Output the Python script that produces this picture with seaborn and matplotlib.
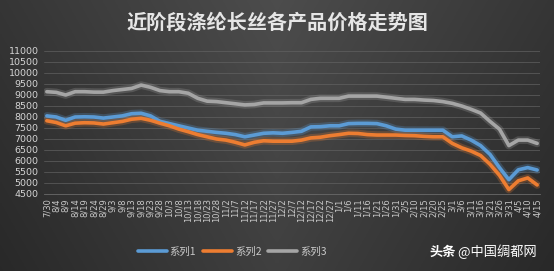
import numpy as np
import pandas as pd
import matplotlib
matplotlib.use("Agg")
import matplotlib.pyplot as plt
import seaborn as sns
from matplotlib.lines import Line2D

dates = ["7/30", "8/4", "8/9", "8/14", "8/19", "8/24", "8/29", "9/3", "9/8", "9/13",
         "9/18", "9/23", "9/28", "10/3", "10/8", "10/13", "10/18", "10/23", "10/28",
         "11/2", "11/7", "11/12", "11/17", "11/22", "11/27", "12/2", "12/7", "12/12",
         "12/17", "12/22", "12/27", "1/1", "1/6", "1/11", "1/16", "1/21", "1/26", "1/31",
         "2/5", "2/10", "2/15", "2/20", "2/25", "3/1", "3/6", "3/11", "3/16", "3/21",
         "3/26", "3/31", "4/5", "4/10", "4/15"]

series1 = [8050, 8000, 7850, 8000, 8010, 8000, 7950, 8000, 8050, 8150,
           8170, 8050, 7800, 7700, 7600, 7500, 7400, 7350, 7300, 7260,
           7200, 7100, 7180, 7260, 7280, 7260, 7300, 7350, 7550, 7560,
           7600, 7600, 7700, 7710, 7710, 7700, 7600, 7450, 7400, 7400,
           7400, 7400, 7400, 7100, 7140, 6950, 6700, 6300, 5700, 5150,
           5600, 5700, 5590]
series2 = [7830, 7750, 7600, 7720, 7740, 7730, 7680, 7740, 7800, 7900,
           7940, 7850, 7720, 7600, 7450, 7330, 7200, 7100, 7000, 6950,
           6850, 6730, 6850, 6920, 6900, 6900, 6900, 6950, 7050, 7080,
           7150, 7200, 7260, 7250, 7200, 7180, 7180, 7180, 7160, 7150,
           7120, 7100, 7100, 6800, 6600, 6450, 6250, 5850, 5350, 4700,
           5100, 5230, 4910]
series3 = [9150, 9120, 9000, 9150, 9150, 9130, 9130, 9200, 9250, 9300,
           9450, 9350, 9200, 9150, 9150, 9080, 8850, 8720, 8700, 8650,
           8600, 8550, 8570, 8640, 8640, 8640, 8650, 8650, 8800, 8850,
           8850, 8850, 8950, 8950, 8950, 8950, 8900, 8850, 8800, 8800,
           8770, 8750, 8700, 8620, 8500, 8350, 8180, 7800, 7450, 6700,
           6950, 6950, 6800]
series_names = ["系列1", "系列2", "系列3"]
yticks = list(range(4500, 11001, 500))
title = "近阶段涤纶长丝各产品价格走势图"
watermark_a = "头条"
watermark_b = " @中国绸都网"

colors = ["#5b9bd5", "#ed7d31", "#a5a5a5"]

n = len(dates)
df = pd.DataFrame({
    "idx": list(range(n)) * 3,
    "value": series1 + series2 + series3,
    "series": [series_names[0]] * n + [series_names[1]] * n + [series_names[2]] * n,
})

sns.set_theme(style="dark")
plt.rcParams["font.family"] = ["Noto Sans CJK SC", "DejaVu Sans"]

W, H = 554, 271
fig = plt.figure(figsize=(W / 100, H / 100), dpi=100)

# background gradient
bg = fig.add_axes([0, 0, 1, 1])
yy, xx = np.mgrid[0:1:200j, 0:1:300j]
g = 0.30 - 0.09 * np.abs(xx - 0.5) * 2 - 0.05 * yy
g = np.clip(g, 0, 1)
img = np.dstack([g, g, g])
bg.imshow(img, aspect="auto", extent=[0, 1, 0, 1], origin="upper")
bg.axis("off")

ax = fig.add_axes([44 / W, 1 - 194 / H, 496 / W, 143 / H])
ax.set_facecolor("none")
ax.patch.set_alpha(0)

# soft glow under lines
for name, c in zip(series_names, colors):
    sub = df[df["series"] == name]
    ax.plot(sub["idx"], sub["value"], color=c, lw=5.5, alpha=0.25, solid_capstyle="round", zorder=2)

sns.lineplot(data=df, x="idx", y="value", hue="series", palette=colors,
             linewidth=2.6, ax=ax, legend=False, zorder=3)

ax.set_xlim(-0.3, n - 1 + 0.3)
ax.set_ylim(4500, 11000)
ax.set_yticks(yticks)
ax.set_yticklabels([str(v) for v in yticks], fontsize=6.8, color="#d4d4d4",
                   family=["DejaVu Sans"])
ax.set_xticks(range(n))
ax.set_xticklabels(dates, rotation=90, fontsize=6.0, color="#c8c8c8",
                   family=["DejaVu Sans"])
ax.tick_params(axis="y", length=0, pad=4)
ax.tick_params(axis="x", length=2, color="#777777", pad=1)
ax.set_xlabel("")
ax.set_ylabel("")
ax.grid(axis="y", color="#626262", linewidth=0.6, alpha=0.8)
ax.grid(axis="x", visible=False)
for s in ["top", "right", "left"]:
    ax.spines[s].set_visible(False)
ax.spines["bottom"].set_visible(True)
ax.spines["bottom"].set_color("#6a6a6a")
ax.spines["bottom"].set_linewidth(0.6)

fig.text(0.5, 1 - 22 / H, title, ha="center", va="center", fontsize=14.5,
         color="#e6e6e6", fontweight="bold")

# legend
handles = [Line2D([0], [0], color=c, lw=2.6) for c in colors]
leg = fig.legend(handles, series_names, loc="center", bbox_to_anchor=(232 / W, 1 - 252 / H),
                 ncol=3, frameon=False, fontsize=7.5, handlelength=2.8, columnspacing=0.6,
                 handletextpad=0.3, labelcolor="#c8c8c8")

fig.text(430 / W, 1 - 252 / H, watermark_a, ha="left", va="center", fontsize=9.5,
         color="white", fontweight="bold")
fig.text(455 / W, 1 - 252 / H, watermark_b, ha="left", va="center", fontsize=9.5,
         color="white")

fig.savefig("out.png", dpi=100)
